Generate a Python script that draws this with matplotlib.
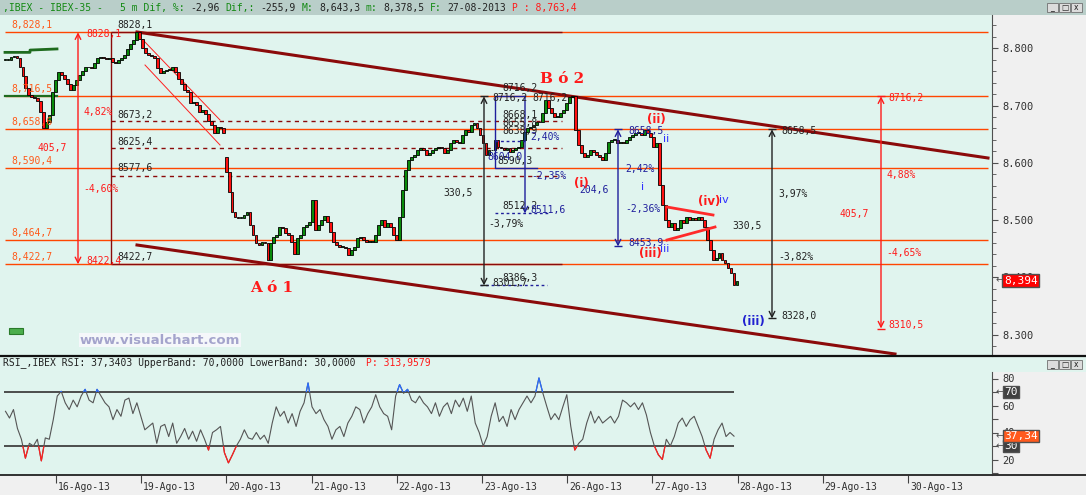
import numpy as np
import matplotlib
matplotlib.use('Agg')
import matplotlib.pyplot as plt
import matplotlib.transforms as mtransforms
from matplotlib.patches import Rectangle

W, H = 1086, 495
MINT = '#e0f4ee'
GREYBG = '#f0f0f0'
TITLEBG = '#b9cec9'
LEVEL = '#ff4600'
LEVTXT = '#ff5a1a'
MAROON = '#8b0a0a'
NAVY = '#1f1f9c'
RED = '#ff1a1a'
GREEN = '#138a13'
INK = '#222222'
MONO = 'DejaVu Sans Mono'

# ---------------------------------------------------------------- data
# 5-minute closes (IBEX-35, 15..27 Aug 2013)
closes_to_19ago = [
    8780, 8780, 8785, 8787, 8783, 8767, 8752, 8731, 8718, 8715,
    8713, 8708, 8689, 8661, 8671, 8683, 8724, 8745, 8759, 8754,
    8747, 8738, 8727, 8736, 8745, 8754, 8760, 8767, 8767, 8766,
    8774, 8783, 8785, 8783, 8781, 8783, 8776, 8774, 8780, 8783,
    8788, 8799, 8808, 8815, 8828, 8816, 8801, 8792, 8788, 8787,
    8783, 8766, 8757, 8760, 8762, 8762, 8767, 8759, 8747, 8738,
    8727, 8724, 8705, 8706, 8701, 8689, 8692, 8685, 8673, 8666,
    8652, 8663, 8661, 8652]
open_20ago = 8610          # opening gap of 20-Ago
closes_20_21ago = [
    8584, 8549, 8514, 8505, 8504, 8504, 8509, 8514, 8491, 8474,
    8460, 8456, 8462, 8460, 8430, 8460, 8470, 8474, 8488, 8486,
    8477, 8474, 8462, 8440, 8469, 8474, 8488, 8491, 8497, 8535,
    8482, 8491, 8500, 8507, 8497, 8479, 8462, 8456, 8453, 8453,
    8451, 8439, 8448, 8453, 8469, 8470, 8465, 8462, 8462, 8462]
closes_22_27ago = [
    8474, 8491, 8500, 8488, 8495, 8488, 8474, 8465, 8505, 8553,
    8588, 8605, 8610, 8614, 8622, 8626, 8622, 8614, 8617, 8622,
    8626, 8628, 8626, 8617, 8622, 8635, 8640, 8636, 8635, 8649,
    8657, 8654, 8666, 8670, 8661, 8649, 8635, 8614, 8622, 8622,
    8640, 8628, 8626, 8622, 8626, 8619, 8622, 8626, 8628, 8640,
    8654, 8661, 8663, 8666, 8671, 8671, 8687, 8710, 8696, 8687,
    8680, 8680, 8687, 8692, 8705, 8715, 8716, 8657, 8631, 8617,
    8610, 8614, 8622, 8619, 8614, 8610, 8605, 8617, 8636, 8640,
    8640, 8635, 8636, 8635, 8640, 8645, 8649, 8652, 8652, 8649,
    8658, 8652, 8645, 8628, 8635, 8561, 8526, 8500, 8488, 8495,
    8483, 8486, 8500, 8495, 8505, 8500, 8504, 8500, 8505, 8500,
    8488, 8465, 8448, 8430, 8434, 8442, 8430, 8425, 8416, 8408,
    8386, 8394]

# RSI(14)
rsi = [
    55.7, 50.7, 57, 43, 35, 21, 32, 30, 35, 19, 36, 35, 49.5, 67, 70.5,
    62, 57, 64, 59, 67, 72, 64, 62, 72, 67, 62, 59, 49.5, 57, 52,
    64, 65.5, 54, 62, 52, 42, 44.5, 47, 32, 44.5, 46, 37, 47, 32, 37,
    43, 35, 41, 33.5, 42, 35, 27, 40, 42, 44.5, 25, 17.5, 23.5, 30, 35,
    42, 36, 35, 40, 35, 38, 32, 47, 59, 52, 55.7, 47, 54, 44.5, 55.7,
    62, 76.7, 59, 54, 57, 49.5, 44.5, 35, 42, 44.5, 37, 47, 52, 59, 57,
    47, 54, 59, 68, 59, 54, 52, 42, 67, 75.5, 69, 72, 64, 62, 67,
    62, 59, 54, 62, 52, 59, 62, 54, 64, 59, 65.5, 55.7, 67, 47, 40,
    30, 37, 52, 62, 48, 52, 44.5, 57, 49.5, 57, 62, 67, 62, 67, 80.4,
    69, 59, 49.5, 54, 49.5, 59, 68, 44.5, 27, 32, 35, 47, 55.7, 47, 52,
    47, 49.5, 52, 47, 52, 64, 62, 59, 62, 57, 62, 53, 40, 30, 23.5,
    20, 35, 30, 37, 47, 50.7, 44.5, 49.5, 52, 44.5, 37, 27, 21, 35, 42,
    47, 37, 40, 37.3]

day_labels = ['16-Ago-13', '19-Ago-13', '20-Ago-13', '21-Ago-13', '22-Ago-13',
              '23-Ago-13', '26-Ago-13', '27-Ago-13', '28-Ago-13', '29-Ago-13',
              '30-Ago-13']
levels = [8828.1, 8716.5, 8658.6, 8590.4, 8464.7, 8422.7]
level_labels = ['8,828,1', '8,716,5', '8,658,6', '8,590,4', '8,464,7', '8,422,7']
fibo = [8673.2, 8625.4, 8577.6]
swing_hi, swing_lo = 8828.1, 8422.7
last_price, last_rsi = 8394.0, 37.34
price_ticks = [8300, 8400, 8500, 8600, 8700, 8800]


# ---------------------------------------------------------------- helpers
def X(px):          # screen column -> trading-day axis
    return (px - 56) / 85.2


def P(py):          # screen row -> price axis of the upper panel
    return 8884.5 - 1.7473 * py


def R(py):          # screen row -> RSI axis
    return 70 - (py - 392) / 1.35


PX = mtransforms.Affine2D().scale(1, -1).translate(0, H)   # pixel coords, origin top-left

fig = plt.figure(figsize=(W / 100, H / 100), dpi=100)
fig.patch.set_facecolor(GREYBG)

# title bar
fig.add_artist(Rectangle((0, 0), W, 15, transform=PX, fc=TITLEBG, ec='none', zorder=0))
CW = 0.602 * 7 * 100 / 72
title = [(0, ',IBEX - IBEX-35 -', GREEN), (20, '5 m Dif, %:', GREEN), (32, '-2,96', INK),
         (38, 'Dif,:', GREEN), (44, '-255,9', INK), (51, 'M:', GREEN), (54, '8,643,3', INK),
         (62, 'm:', GREEN), (65, '8,378,5', INK), (73, 'F:', GREEN), (76, '27-08-2013', INK),
         (87, 'P : 8,763,4', RED)]
for idx, s, col in title:
    fig.text(3 + idx * CW, 8, s, transform=PX, family=MONO, fontsize=7, color=col,
             ha='left', va='center')


def buttons(y):
    for k, g in enumerate(['_', '□', 'x']):
        x0 = 1047 + k * 12
        fig.add_artist(Rectangle((x0, y), 11, 9, transform=PX, fc='#dcdcdc', ec='#707070',
                                 lw=0.6, zorder=2))
        fig.text(x0 + 5.5, y + 4.5, g, transform=PX, fontsize=5.5, color='#202020',
                 ha='center', va='center', family='DejaVu Sans', zorder=3)


buttons(3)

# ---------------------------------------------------------------- price panel
ax = fig.add_axes([0, 1 - 356 / H, 992 / W, (356 - 15) / H])
ax.set_facecolor(MINT)
ax.set_xlim(X(0), X(992))
ax.set_ylim(P(356), P(15))
for s in ('top', 'left', 'bottom'):
    ax.spines[s].set_visible(False)
ax.spines['right'].set_color('#505050')
ax.set_xticks([])
ax.yaxis.tick_right()
ax.set_yticks(price_ticks)
ax.set_yticklabels([f'{v // 1000}.{v % 1000:03d}' for v in price_ticks])
ax.set_yticks(np.arange(8280, 8860, 20), minor=True)
ax.tick_params(axis='y', which='major', length=4.5, color='#505050', labelsize=7.5,
               labelcolor='#303030', pad=3)
ax.tick_params(axis='y', which='minor', length=3, color='#505050')
for t in ax.get_yticklabels():
    t.set_family(MONO)

# horizontal levels
ax.hlines(levels, X(5), X(988), color=LEVEL, lw=1, zorder=2)
for lv, lb in zip(levels, level_labels):
    ax.annotate(lb, (X(11), lv), xytext=(0, 1.5), textcoords='offset points',
                family=MONO, fontsize=7, color=LEVTXT, ha='left', va='bottom', zorder=5)
ax.plot([X(5), X(30), X(30), X(57)], [8793, 8793, 8797, 8799], color='#1e6b1e', lw=2, zorder=3)
ax.plot([X(5), X(57)], [8716.5, 8716.5], color='#1e6b1e', lw=1.6, zorder=3)

# retracement of the 8828,1 -> 8422,7 leg
ax.hlines([swing_hi, swing_lo], X(111), X(562), color=MAROON, lw=1, zorder=2)
ax.hlines(fibo, X(111), X(562), color=MAROON, lw=1, linestyles=(0, (3, 3)), zorder=2)
ax.vlines(X(111), swing_lo, swing_hi, color=MAROON, lw=1, zorder=2)

# channel
ax.plot([X(137), X(988)], [P(32), P(158)], color=MAROON, lw=2.2, zorder=3)
ax.plot([X(137), X(895)], [P(245), P(354)], color=MAROON, lw=2.2, zorder=3)
ax.plot([X(143), X(220)], [P(40), P(120)], color='#ff2020', lw=0.7, zorder=3)
ax.plot([X(145), X(220)], [P(65), P(145)], color='#ff2020', lw=0.7, zorder=3)

# candles
closes = closes_to_19ago + closes_20_21ago + closes_22_27ago
opens = [closes[0]] + closes[:-1]
opens[len(closes_to_19ago)] = open_20ago
o = np.array(opens, float)
c = np.array(closes, float)
xs = np.linspace(X(5), X(737), len(c))
step = xs[1] - xs[0]
up = c >= o
ax.bar(xs, np.maximum(np.abs(c - o), 1.2), width=step * 0.95, bottom=np.minimum(o, c),
       color=np.where(up, '#0a8a0a', '#ff1010'), edgecolor='black', linewidth=0.6, zorder=4)

# triangle (iv)
ax.plot([X(667), X(713)], [P(207), P(215)], color='#ff2a2a', lw=2, zorder=5)
ax.plot([X(667), X(715)], [P(240), P(227)], color='#ff2a2a', lw=2, zorder=5)

# blue box of the B wave
ax.plot([X(525), X(495), X(495), X(537)], [8716.2, 8716.2, 8590.3, 8590.3], color=NAVY, lw=1, zorder=5)
ax.hlines([8638.9], X(495), X(525), color=NAVY, lw=1, linestyles=(0, (2, 2)), zorder=5)
ax.hlines([8511.6], X(495), X(550), color=NAVY, lw=1, linestyles=(0, (2, 2)), zorder=5)
ax.hlines([8386.3], X(480), X(547), color=NAVY, lw=1, linestyles=(0, (2, 2)), zorder=5)


def varrow(px, p0, p1, color, ends='<->', cap=True):
    ax.annotate('', xy=(X(px), p1), xytext=(X(px), p0),
                arrowprops=dict(arrowstyle=ends + ',head_length=0.4,head_width=0.2', color=color,
                                lw=1, shrinkA=0, shrinkB=0, mutation_scale=10), zorder=6)
    if cap:
        ax.hlines([p0, p1], X(px - 4), X(px + 4), color=color, lw=1, zorder=6)


varrow(78, swing_lo, swing_hi, RED, cap=False)
varrow(525, 8716.2, 8511.6, NAVY, ends='->', cap=False)
varrow(484, 8385.7, 8716.2, INK)
varrow(618, 8453.9, 8658.5, NAVY)
varrow(772, 8328.0, 8658.5, INK)
varrow(881, 8310.5, 8716.2, RED)

labels = [
    (117, 25, '8828,1', INK), (117, 115, '8673,2', INK), (117, 142, '8625,4', INK),
    (117, 168, '8577,6', INK), (117, 257, '8422,7', INK),
    (86, 34, '8828,1', RED), (84, 112, '4,82%', RED), (38, 148, '405,7', RED),
    (83, 189, '-4,60%', RED), (86, 261, '8422,4', RED),
    (502, 88, '8716,2', INK), (492, 98, '8716,2', INK), (532, 98, '8716,2', INK),
    (502, 115, '8668,1', INK), (502, 123, '8655,8', INK), (502, 131, '8638,9', INK),
    (530, 137, '2,40%', NAVY), (487, 157, '8604,0', NAVY), (497, 161, '8590,3', INK),
    (531, 176, '-2,35%', NAVY), (443, 193, '330,5', INK), (502, 206, '8512,2', INK),
    (530, 210, '8511,6', NAVY), (488, 224, '-3,79%', INK), (502, 278, '8386,3', INK),
    (492, 283, '8301,7', INK),
    (579, 190, '204,6', NAVY), (628, 131, '8658,5', NAVY), (625, 169, '2,42%', NAVY),
    (625, 209, '-2,36%', NAVY), (628, 243, '8453,9', NAVY),
    (781, 131, '8658,5', INK), (778, 194, '3,97%', INK), (732, 226, '330,5', INK),
    (778, 257, '-3,82%', INK), (781, 316, '8328,0', INK),
    (888, 98, '8716,2', RED), (886, 175, '4,88%', RED), (839, 214, '405,7', RED),
    (886, 253, '-4,65%', RED), (888, 325, '8310,5', RED),
]
for px, py, s, col in labels:
    ax.text(X(px), P(py), s, family=MONO, fontsize=7, color=col, ha='left', va='center', zorder=7)

for px, py, s in [(666, 139, 'ii'), (643, 187, 'i'), (665, 249, 'iii'), (724, 200, 'iv')]:
    ax.text(X(px), P(py), s, family='DejaVu Sans', fontsize=8, color='#3030ff',
            ha='center', va='center', zorder=7)
for px, py, s, col in [(581, 184, '(i)', RED), (656, 120, '(ii)', RED), (650, 254, '(iii)', RED),
                       (709, 202, '(iv)', RED), (753, 322, '(iii)', '#2020d0')]:
    ax.text(X(px), P(py), s, family='DejaVu Sans', fontweight='bold', fontsize=8.5, color=col,
            ha='center', va='center', zorder=7)
for px, py, s in [(272, 288, 'A ó 1'), (562, 79, 'B ó 2')]:
    ax.text(X(px), P(py), s, family='DejaVu Serif', fontweight='bold', fontsize=11, color=RED,
            ha='center', va='center', zorder=7)

ax.text(X(160), P(340), 'www.visualchart.com', family='DejaVu Sans', fontweight='bold',
        fontsize=9.5, color='#a4a4cc', ha='center', va='center', zorder=7,
        bbox=dict(boxstyle='square,pad=0.05', fc='#f5f7fa', ec='none'))
ax.add_patch(Rectangle((X(9), P(334)), X(23) - X(9), P(328) - P(334), fc='#4cae4c',
                       ec='#2a7a2a', lw=0.8, zorder=7))

ytr = ax.get_yaxis_transform()
ax.text(1.004, last_price, '←', transform=ytr, fontsize=7, color='#505050', ha='left',
        va='center', clip_on=False, zorder=8)
ax.text(1.012, last_price, '8,394', transform=ytr, family=MONO, fontsize=8, color='white',
        ha='left', va='center', clip_on=False, zorder=8,
        bbox=dict(boxstyle='square,pad=0.15', fc='#ff0000', ec='#505050', lw=1))

# ---------------------------------------------------------------- RSI panel
fig.add_artist(Rectangle((992, 357), W - 992, 15, transform=PX, fc=MINT, ec='none', zorder=0))
ax2 = fig.add_axes([0, 1 - 475 / H, 992 / W, (475 - 357) / H])
ax2.set_facecolor(MINT)
ax2.set_xlim(X(0), X(992))
ax2.set_ylim(R(475), R(357))
for s in ('top', 'left'):
    ax2.spines[s].set_visible(False)
ax2.spines['right'].set_color('#505050')
ax2.spines['right'].set_bounds(R(475), R(372))
ax2.spines['bottom'].set_visible(False)
ax2.yaxis.tick_right()
ax2.set_yticks(range(10, 90, 10))
ax2.set_yticklabels(['' if v not in (20, 40, 60, 80) else str(v) for v in range(10, 90, 10)])
ax2.tick_params(axis='y', length=4.5, color='#505050', labelsize=7.5, labelcolor='#303030', pad=3)
for t in ax2.get_yticklabels():
    t.set_family(MONO)

ax2.set_xticks(range(len(day_labels)))
ax2.set_xticklabels(day_labels)
ax2.tick_params(axis='x', length=6, color='#404040', labelsize=7, labelcolor='#303030', pad=-1)
shift = mtransforms.ScaledTranslation(2 / 100, 0, fig.dpi_scale_trans)
for t in ax2.get_xticklabels():
    t.set_family(MONO)
    t.set_horizontalalignment('left')
    t.set_transform(t.get_transform() + shift)

ax2.hlines([70, 30], X(3.5), X(734), color='#404040', lw=1.3, zorder=2)
rx = np.linspace(X(5.5), X(734), len(rsi))
ax2.plot(rx, rsi, color='#555555', lw=0.8, zorder=3)
lo, = ax2.plot(rx, rsi, color='#ff2020', lw=0.9, zorder=4)
lo.set_clip_path(Rectangle((X(0), 0), 20, 30, transform=ax2.transData))
hi, = ax2.plot(rx, rsi, color='#2a6cff', lw=0.9, zorder=4)
hi.set_clip_path(Rectangle((X(0), 70), 20, 40, transform=ax2.transData))

ytr2 = ax2.get_yaxis_transform()
for val, s, fc in [(70, '70', '#404040'), (30, '30', '#404040'), (last_rsi, '37,34', '#ff5a1e')]:
    ax2.text(1.004, val, '←', transform=ytr2, fontsize=7, color='#505050', ha='left',
             va='center', clip_on=False, zorder=8)
    ax2.text(1.012, val, s, transform=ytr2, family=MONO, fontsize=8, color='white',
             ha='left', va='center', clip_on=False, zorder=9 if fc != '#404040' else 8,
             bbox=dict(boxstyle='square,pad=0.12', fc=fc, ec='#505050', lw=1))

fig.text(3, 363, 'RSI_,IBEX RSI: 37,3403 UpperBand: 70,0000 LowerBand: 30,0000',
         transform=PX, family=MONO, fontsize=7, color=INK, ha='left', va='center')
fig.text(3 + 62 * CW, 363, 'P: 313,9579', transform=PX, family=MONO, fontsize=7, color=RED,
         ha='left', va='center')
buttons(360)

# panel separators
fig.add_artist(plt.Line2D([0, W], [356, 356], transform=PX, color='#111111', lw=1.6, zorder=5))
fig.add_artist(plt.Line2D([0, W], [475, 475], transform=PX, color='#303030', lw=1.4, zorder=5))

fig.savefig('out.png', dpi=100, facecolor=fig.get_facecolor())
